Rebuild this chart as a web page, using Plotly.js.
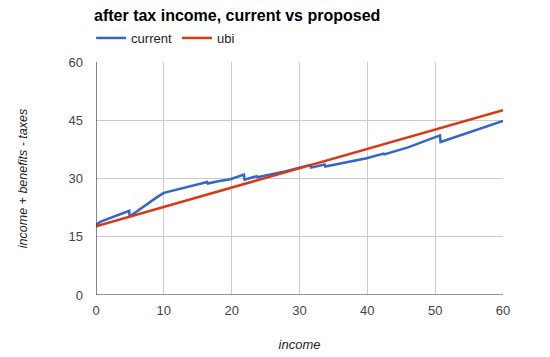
<!DOCTYPE html>
<html>
<head>
<meta charset="utf-8">
<script src="https://cdn.plot.ly/plotly-3.0.1.min.js"></script>
<style>html,body{margin:0;padding:0;background:#fff;}#chart{width:550px;height:357px;}</style>
</head>
<body>
<div id="chart"></div>
<script>
const currentIncome = [0, 0.7, 4.9, 4.95, 6, 7, 8, 9, 10, 12, 14, 16.4, 16.5, 18, 19.8, 21.2, 21.8, 21.9, 23.7, 23.8, 26, 28, 30, 31.6, 31.7, 33.7, 33.8, 36, 39.9, 42.4, 42.5, 46, 50.7, 50.8, 55, 60];
const currentValues = [18.1, 18.9, 21.7, 20.2, 21.5, 22.8, 24.0, 25.2, 26.3, 27.2, 28.1, 29.1, 28.7, 29.3, 29.8, 30.5, 31.0, 29.7, 30.6, 30.3, 31.1, 31.9, 32.8, 33.5, 32.8, 33.6, 33.1, 33.9, 35.2, 36.4, 36.2, 38.0, 41.1, 39.4, 41.9, 44.8];
const ubiIncome = [0, 60];
const ubiValues = [17.7, 47.6];
const xTicks = [0, 10, 20, 30, 40, 50, 60];
const yTicks = [0, 15, 30, 45, 60];

const traces = [
  {x: currentIncome, y: currentValues, name: 'current', type: 'scatter', mode: 'lines',
   line: {color: '#3366cc', width: 2.5}},
  {x: ubiIncome, y: ubiValues, name: 'ubi', type: 'scatter', mode: 'lines',
   line: {color: '#dc3912', width: 2.5}}
];

const layout = {
  width: 550, height: 357,
  margin: {l: 95.5, r: 47, t: 62, b: 62},
  paper_bgcolor: '#fff', plot_bgcolor: '#fff',
  font: {family: 'Arial, Liberation Sans, sans-serif', size: 13, color: '#444'},
  title: {text: '<b>after tax income, current vs proposed</b>', x: 94/550, xanchor: 'left', xref: 'container',
          y: 1 - 15/357, yanchor: 'middle', font: {size: 16, color: '#000', family: 'Arial, Liberation Sans, sans-serif'}},
  showlegend: true,
  legend: {orientation: 'h', x: -0.012, xanchor: 'left', xref: 'paper', y: 1 - 38/357, yref: 'container', yanchor: 'middle',
           font: {size: 13, color: '#222'}, itemwidth: 30, tracegroupgap: 0, bgcolor: 'rgba(0,0,0,0)'},
  xaxis: {range: [0, 60], tickvals: xTicks, ticktext: xTicks.map(String), showgrid: true, gridcolor: '#cccccc', gridwidth: 1,
          zeroline: false, showline: false, ticks: '', ticklabelstandoff: 6,
          title: {text: '<i>income</i>', font: {size: 13, color: '#222'}, standoff: 22}},
  yaxis: {range: [0, 60], tickvals: yTicks, ticktext: yTicks.map(String), showgrid: true, gridcolor: '#cccccc', gridwidth: 1,
          zeroline: false, showline: false, ticks: '', ticklabelstandoff: 12,
          title: {text: '<i>income + benefits - taxes</i>', font: {size: 12.5, color: '#222'}, standoff: 38}},
  shapes: [
    {type: 'line', xref: 'x', yref: 'paper', x0: 0, x1: 0, y0: 0, y1: 1, line: {color: '#333', width: 1.2}},
    {type: 'line', xref: 'paper', yref: 'y', x0: 0, x1: 1, y0: 0, y1: 0, line: {color: '#333', width: 1.2}}
  ]
};

Plotly.newPlot('chart', traces, layout, {displayModeBar: false, staticPlot: true});
</script>
</body>
</html>
